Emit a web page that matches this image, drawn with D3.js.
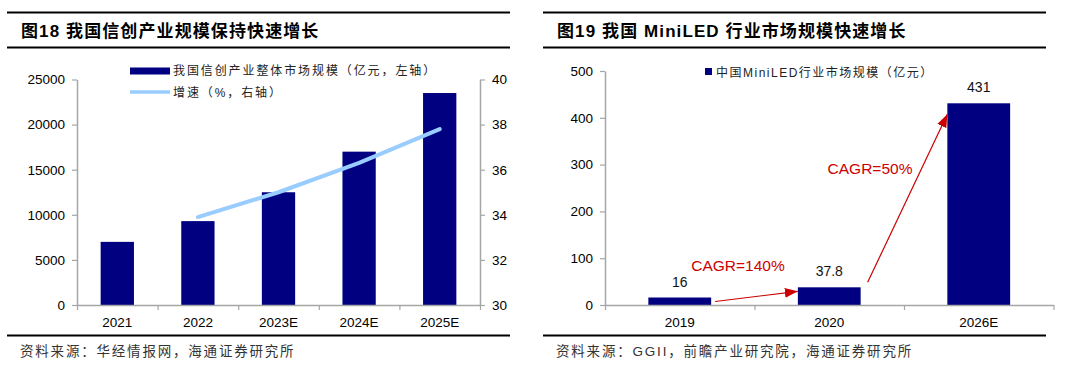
<!DOCTYPE html>
<html lang="zh">
<head>
<meta charset="UTF-8">
<title>信创产业与MiniLED市场规模</title>
<script src="https://cdn.jsdelivr.net/npm/d3@7/dist/d3.min.js"></script>
<style>
    body { margin: 0; background: #fff; }
    svg text { font-family: "Liberation Sans", Arial, "Noto Sans CJK SC", sans-serif; }
</style>
</head>
<body>
<script>
// ---- left panel data (图18)
var years1 = ["2021", "2022", "2023E", "2024E", "2025E"];
var marketSize1 = [7000, 9300, 12500, 17000, 23500];      // 亿元, left axis
var growth1 = [null, 33.9, 35.0, 36.3, 37.8];              // %, right axis
var leftTicks1 = [0, 5000, 10000, 15000, 20000, 25000];
var rightTicks1 = [30, 32, 34, 36, 38, 40];

// ---- right panel data (图19)
var years2 = ["2019", "2020", "2026E"];
var marketSize2 = [16, 37.8, 431];                          // 亿元
var ticks2 = [0, 100, 200, 300, 400, 500];
var cagrLabels = ["CAGR=140%", "CAGR=50%"];

var W = 1080, H = 370,
    navy = "#000080",
    lightBlue = "#99ccff",
    axisGrey = "#a6a6a6",
    red = "#cc0000";

var svg = d3.select("body").append("svg")
    .attr("width", W)
    .attr("height", H);

svg.append("rect").attr("width", W).attr("height", H).attr("fill", "#fff");

// title block + source line with the black rules
function frame(x0, x1, title, source) {
    svg.append("line").attr("x1", x0).attr("x2", x1).attr("y1", 12.5).attr("y2", 12.5)
        .attr("stroke", "#000").attr("stroke-width", 2);
    svg.append("line").attr("x1", x0).attr("x2", x1).attr("y1", 47.5).attr("y2", 47.5)
        .attr("stroke", "#000").attr("stroke-width", 2);
    svg.append("line").attr("x1", x0).attr("x2", x1).attr("y1", 335.5).attr("y2", 335.5)
        .attr("stroke", "#000").attr("stroke-width", 2);
    svg.append("text").attr("x", x0 + 14).attr("y", 36.5)
        .attr("font-size", "17px").attr("font-weight", "bold").attr("fill", "#000")
        .attr("letter-spacing", "1.1px")
        .text(title);
    svg.append("text").attr("x", x0 + 13).attr("y", 356)
        .attr("font-size", "13.5px").attr("fill", "#333")
        .attr("letter-spacing", "1.8px")
        .text(source);
}

frame(7, 510, "图18 我国信创产业规模保持快速增长", "资料来源：华经情报网，海通证券研究所");
frame(543, 1046, "图19 我国 MiniLED 行业市场规模快速增长", "资料来源：GGII，前瞻产业研究院，海通证券研究所");

function styleAxis(g) {
    g.select(".domain").attr("stroke", axisGrey).attr("stroke-width", 1.5);
    g.selectAll(".tick line").attr("stroke", axisGrey).attr("stroke-width", 1.2);
    g.selectAll(".tick text").attr("fill", "#000").attr("font-size", "13.5px")
        .attr("font-family", "\"Liberation Sans\", Arial, sans-serif");
}

// x axis with ticks between categories, labels under band centres
function categoryAxis(x, y0, cats) {
    var b = d3.scaleLinear().domain([0, cats.length]).range(x.range());
    var g = svg.append("g").attr("transform", "translate(0," + y0 + ")")
        .call(d3.axisBottom(b).tickValues(d3.range(0, cats.length + 1))
            .tickFormat("").tickSize(5).tickSizeOuter(0));
    styleAxis(g);
    svg.append("g").selectAll("text")
        .data(cats)
        .enter()
        .append("text")
        .attr("x", function(d) { return x(d) + x.bandwidth() / 2; })
        .attr("y", y0 + 21.5)
        .attr("text-anchor", "middle")
        .attr("font-size", "13.5px")
        .attr("fill", "#000")
        .text(function(d) { return d; });
}

var plain = d3.format("d");

// ================= left chart =================
var x1 = d3.scaleBand().domain(years1).range([77, 480])
    .paddingInner(0.587).paddingOuter(0.2935);
var y1 = d3.scaleLinear().domain([0, 25000]).range([305, 79.5]);
var y1r = d3.scaleLinear().domain([30, 40]).range([305, 79.5]);

svg.append("g").selectAll("rect")
    .data(marketSize1)
    .enter()
    .append("rect")
    .attr("x", function(d, i) { return x1(years1[i]); })
    .attr("y", function(d) { return y1(d); })
    .attr("width", x1.bandwidth())
    .attr("height", function(d) { return y1(0) - y1(d); })
    .attr("fill", navy);

var growthPts = growth1.map(function(v, i) { return { year: years1[i], v: v }; })
    .filter(function(p) { return p.v !== null; });

svg.append("path")
    .datum(growthPts)
    .attr("fill", "none")
    .attr("stroke", lightBlue)
    .attr("stroke-width", 4)
    .attr("stroke-linecap", "round")
    .attr("stroke-linejoin", "round")
    .attr("d", d3.line()
        .x(function(p) { return x1(p.year) + x1.bandwidth() / 2; })
        .y(function(p) { return y1r(p.v); }));

var gl1 = svg.append("g").attr("transform", "translate(77,0)")
    .call(d3.axisLeft(y1).tickValues(leftTicks1).tickFormat(plain)
        .tickSize(5).tickSizeOuter(0).tickPadding(7));
styleAxis(gl1);

var gr1 = svg.append("g").attr("transform", "translate(480,0)")
    .call(d3.axisRight(y1r).tickValues(rightTicks1).tickFormat(plain)
        .tickSize(5).tickSizeOuter(0).tickPadding(7));
styleAxis(gr1);

categoryAxis(x1, 305, years1);

// legend
var leg1 = svg.append("g");
leg1.append("rect").attr("x", 130).attr("y", 67.5).attr("width", 40).attr("height", 7).attr("fill", navy);
leg1.append("line").attr("x1", 130).attr("x2", 170).attr("y1", 92).attr("y2", 92)
    .attr("stroke", lightBlue).attr("stroke-width", 3.5);
leg1.append("text").attr("x", 173).attr("y", 75).attr("font-size", "12px")
    .attr("letter-spacing", "1.9px").attr("fill", "#222")
    .text("我国信创产业整体市场规模（亿元，左轴）");
leg1.append("text").attr("x", 173).attr("y", 97).attr("font-size", "12px")
    .attr("letter-spacing", "1.9px").attr("fill", "#222")
    .text("增速（%，右轴）");

// ================= right chart =================
var x2 = d3.scaleBand().domain(years2).range([605, 1053.5])
    .paddingInner(0.58).paddingOuter(0.29);
var y2 = d3.scaleLinear().domain([0, 500]).range([305, 71]);

svg.append("g").selectAll("rect")
    .data(marketSize2)
    .enter()
    .append("rect")
    .attr("x", function(d, i) { return x2(years2[i]); })
    .attr("y", function(d) { return y2(d); })
    .attr("width", x2.bandwidth())
    .attr("height", function(d) { return y2(0) - y2(d); })
    .attr("fill", navy);

svg.append("g").selectAll("text")
    .data(marketSize2)
    .enter()
    .append("text")
    .attr("x", function(d, i) { return x2(years2[i]) + x2.bandwidth() / 2; })
    .attr("y", function(d) { return y2(d) - 11; })
    .attr("text-anchor", "middle")
    .attr("font-size", "14px")
    .attr("fill", "#111")
    .text(function(d) { return d; });

var gl2 = svg.append("g").attr("transform", "translate(605,0)")
    .call(d3.axisLeft(y2).tickValues(ticks2).tickFormat(plain)
        .tickSize(5).tickSizeOuter(0).tickPadding(7));
styleAxis(gl2);

categoryAxis(x2, 305, years2);

// CAGR arrows
var defs = svg.append("defs");
defs.append("marker")
    .attr("id", "head")
    .attr("viewBox", "0 0 13 10")
    .attr("refX", 13).attr("refY", 5)
    .attr("markerWidth", 13).attr("markerHeight", 10)
    .attr("markerUnits", "userSpaceOnUse")
    .attr("orient", "auto")
    .append("path").attr("d", "M0,0L13,5L0,10Z").attr("fill", red);

var arrows = [
    { from: 0, to: 1, dy0: 4, dy1: 4, tx: 738, ty: 271 },
    { from: 1, to: 2, dy0: -5, dy1: 11, tx: 870, ty: 174 }
];
arrows.forEach(function(a, i) {
    var xa = x2(years2[a.from]) + x2.bandwidth() + (i === 0 ? 4 : 7),
        ya = y2(marketSize2[a.from]) + a.dy0,
        xb = x2(years2[a.to]),
        yb = y2(marketSize2[a.to]) + a.dy1;
    svg.append("line")
        .attr("x1", xa).attr("y1", ya).attr("x2", xb).attr("y2", yb)
        .attr("stroke", red).attr("stroke-width", 1.2)
        .attr("marker-end", "url(#head)");
    svg.append("text").attr("x", a.tx).attr("y", a.ty)
        .attr("text-anchor", "middle")
        .attr("font-size", "15.5px")
        .attr("fill", red)
        .text(cagrLabels[i]);
});

// legend
svg.append("rect").attr("x", 705).attr("y", 68).attr("width", 7).attr("height", 7).attr("fill", navy);
svg.append("text").attr("x", 716).attr("y", 76.5).attr("font-size", "12px")
    .attr("letter-spacing", "1.5px").attr("fill", "#222")
    .text("中国MiniLED行业市场规模（亿元）");
</script>
</body>
</html>
